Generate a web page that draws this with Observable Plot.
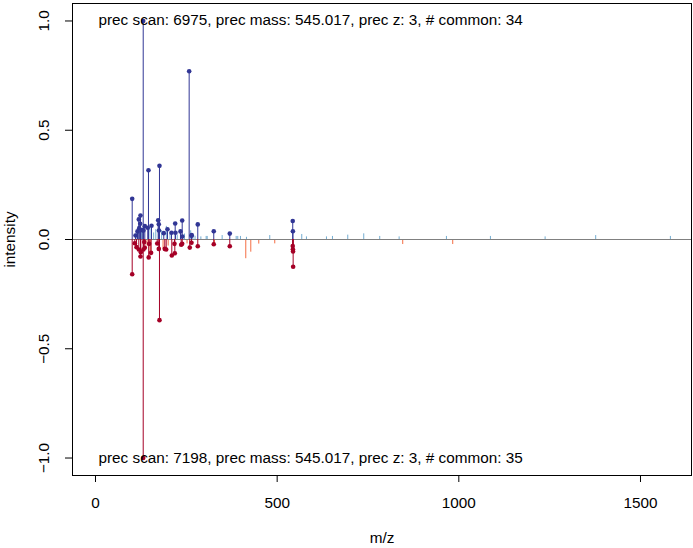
<!DOCTYPE html>
<html><head><meta charset="utf-8">
<script src="https://cdn.jsdelivr.net/npm/d3@7"></script>
<script src="https://cdn.jsdelivr.net/npm/@observablehq/plot@0.6"></script>
<style>body{margin:0;background:#fff} svg{display:block}</style>
</head><body><div id="chart"></div>
<script>
// Spectrum 1 (top): peaks in common with spectrum 2
const mz1Common  = [101.0, 110.1, 115.6, 119.2, 120.3, 123.0, 123.8, 128.5, 131.3, 131.9, 135.7, 143.9, 145.8, 154.1, 172.5, 174.2, 174.7, 176.1, 187.9, 198.1, 209.1, 219.3, 220.1, 233.9, 238.6, 239.0, 257.8, 264.2, 264.8, 281.5, 325.5, 369.6, 542.9, 543.3];
const int1Common = [0.186, 0.018, 0.037, 0.092, 0.052, 0.072, 0.110, 0.043, 1.000, 0.041, 0.061, 0.054, 0.317, 0.063, 0.088, 0.070, 0.041, 0.337, 0.029, 0.047, 0.031, 0.073, 0.031, 0.037, 0.087, 0.014, 0.770, 0.017, 0.020, 0.069, 0.038, 0.027, 0.085, 0.038];
// Spectrum 2 (bottom): peaks in common with spectrum 1
const mz2Common  = [101.0, 108.2, 112.9, 119.2, 123.8, 124.7, 131.3, 132.0, 134.1, 135.7, 146.4, 147.5, 153.0, 169.9, 174.2, 176.1, 190.7, 194.6, 210.0, 217.4, 218.3, 235.8, 238.6, 259.5, 264.2, 281.5, 325.5, 369.6, 542.9, 543.3, 543.7, 544.0];
const int2Common = [0.159, 0.017, 0.035, 0.046, 0.078, 0.058, 1.000, 0.046, 0.012, 0.038, 0.082, 0.020, 0.061, 0.018, 0.043, 0.369, 0.043, 0.046, 0.073, 0.020, 0.063, 0.024, 0.020, 0.037, 0.015, 0.031, 0.022, 0.031, 0.030, 0.045, 0.055, 0.125];
// Spectrum 1 (top): other peaks
const mz1Other  = [112.0, 127.0, 150.0, 160.0, 166.0, 182.0, 195.0, 205.0, 225.0, 245.0, 262.0, 268.0, 274.0, 290.0, 304.6, 307.4, 348.6, 387.2, 391.6, 399.0, 415.5, 479.6, 567.7, 580.6, 635.7, 652.2, 694.3, 738.3, 782.3, 835.7, 965.9, 1087.0, 1237.5, 1376.7, 1582.3];
const int1Other = [0.030, 0.040, 0.050, 0.030, 0.045, 0.040, 0.060, 0.030, 0.020, 0.025, 0.040, 0.020, 0.015, 0.012, 0.014, 0.014, 0.018, 0.014, 0.014, 0.014, 0.010, 0.018, 0.023, 0.012, 0.012, 0.014, 0.020, 0.026, 0.014, 0.012, 0.014, 0.014, 0.012, 0.018, 0.014];
// Spectrum 2 (bottom): other peaks
const mz2Other  = [142.0, 150.0, 152.0, 186.0, 200.0, 252.0, 327.5, 413.6, 427.4, 449.4, 493.4, 845.6, 983.2];
const int2Other = [0.030, 0.075, 0.060, 0.045, 0.030, 0.020, 0.020, 0.088, 0.058, 0.021, 0.020, 0.023, 0.023];

const xTicks = [0, 500, 1000, 1500];
const yTicks = [-1, -0.5, 0, 0.5, 1];
const yTickLabels = ["\u22121.0", "\u22120.5", "0.0", "0.5", "1.0"];
const topLabel = "prec scan: 6975, prec mass: 545.017, prec z: 3, # common: 34";
const bottomLabel = "prec scan: 7198, prec mass: 545.017, prec z: 3, # common: 35";
const xLabel = "m/z";
const yLabel = "intensity";

const zip = (a, b) => a.map((mz, i) => ({mz, int: b[i]}));
const top1 = zip(mz1Common, int1Common);
const bot2 = zip(mz2Common, int2Common);
const top1o = zip(mz1Other, int1Other);
const bot2o = zip(mz2Other, int2Other);

const FONT = "'Liberation Sans', Arial, Helvetica, sans-serif";
const FS = 15.3;

const chart = Plot.plot({
  width: 693, height: 548,
  marginLeft: 72, marginRight: 2, marginTop: 3, marginBottom: 73,
  style: {fontFamily: FONT, fontSize: FS + "px", background: "#fff", color: "#000"},
  x: {domain: [-63.3, 1640.4]},
  y: {domain: [-1.08, 1.08]},
  marks: [
    Plot.ruleX(top1o, {x: "mz", y1: 0, y2: "int", stroke: "#74ADD1", strokeWidth: 1}),
    Plot.ruleX(bot2o, {x: "mz", y1: 0, y2: d => -d.int, stroke: "#F46D43", strokeWidth: 1}),
    Plot.ruleY([0], {stroke: "#808080", strokeWidth: 1}),
    Plot.ruleX(top1, {x: "mz", y1: 0, y2: "int", stroke: "#313695", strokeWidth: 1}),
    Plot.ruleX(bot2, {x: "mz", y1: 0, y2: d => -d.int, stroke: "#A50026", strokeWidth: 1}),
    Plot.dot(top1, {x: "mz", y: "int", r: 2.3, fill: "#313695", stroke: null}),
    Plot.dot(bot2, {x: "mz", y: d => -d.int, r: 2.3, fill: "#A50026", stroke: null}),
    Plot.frame({stroke: "#000"}),
    Plot.axisX({ticks: xTicks, tickSize: 7, tickPadding: 15, tickFormat: d => String(d), label: null, fontSize: FS, stroke: "#000", strokeOpacity: 1}),
    Plot.axisY({ticks: yTicks, tickSize: 7, tickFormat: () => "", label: null, stroke: "#000", strokeOpacity: 1}),
    Plot.text(yTicks, {y: d => d, text: (d, i) => yTickLabels[i], frameAnchor: "left", dx: -28, rotate: -90, textAnchor: "middle", lineAnchor: "middle", fontSize: FS, fill: "#000"}),
    Plot.text([topLabel], {text: d => d, frameAnchor: "top-left", dx: 26, dy: 17, textAnchor: "start", lineAnchor: "middle", fontSize: FS, fill: "#000"}),
    Plot.text([bottomLabel], {text: d => d, frameAnchor: "bottom-left", dx: 26, dy: -17, textAnchor: "start", lineAnchor: "middle", fontSize: FS, fill: "#000"}),
    Plot.text([yLabel], {text: d => d, frameAnchor: "left", dx: -62, rotate: -90, textAnchor: "middle", lineAnchor: "middle", fontSize: FS, fill: "#000"}),
    Plot.text([xLabel], {text: d => d, frameAnchor: "bottom", dy: 63, textAnchor: "middle", lineAnchor: "middle", fontSize: FS, fill: "#000"})
  ]
});
document.getElementById("chart").appendChild(chart);
</script>
</body></html>
